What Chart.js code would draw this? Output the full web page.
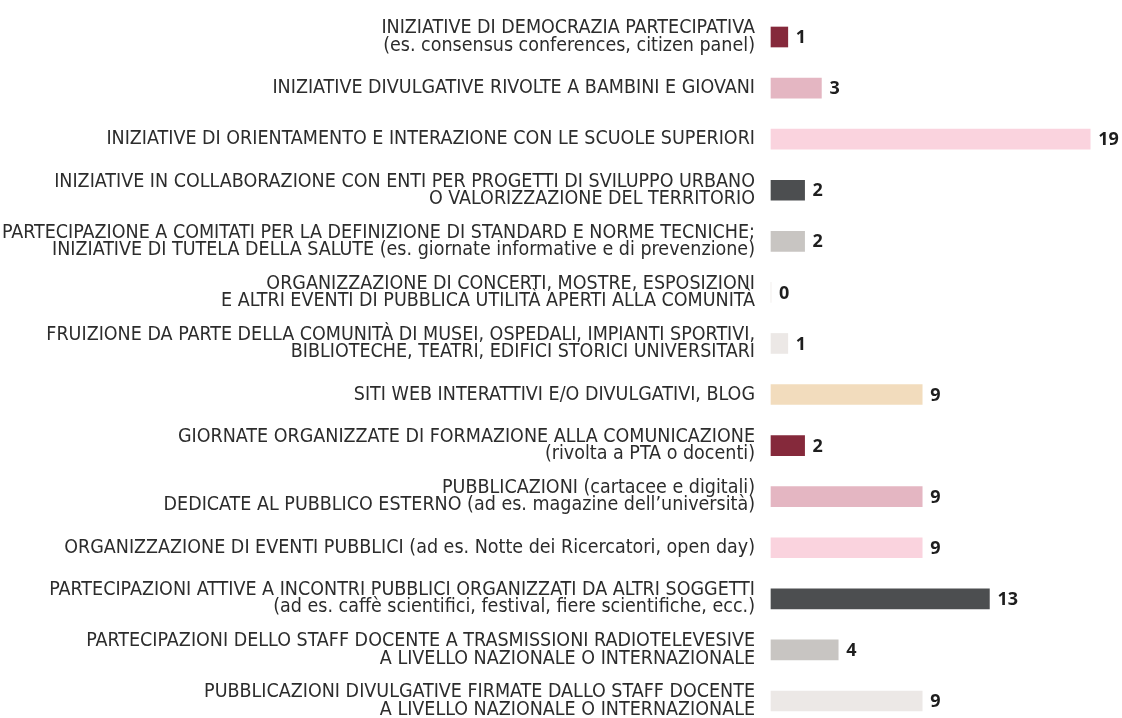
<!DOCTYPE html>
<html>
<head>
<meta charset="utf-8">
<script src="https://cdn.jsdelivr.net/npm/chart.js@4"></script>
<style>
    html, body { margin: 0; padding: 0; background: #ffffff; }
    #wrap { width: 1122px; height: 718px; position: relative; }
</style>
</head>
<body>
<div id="wrap"><canvas id="chart"></canvas></div>
<script>
// categorie (una riga per elemento dell'array interno)
const categories = [
    ['INIZIATIVE DI DEMOCRAZIA PARTECIPATIVA', '(es. consensus conferences, citizen panel)'],
    ['INIZIATIVE DIVULGATIVE RIVOLTE A BAMBINI E GIOVANI'],
    ['INIZIATIVE DI ORIENTAMENTO E INTERAZIONE CON LE SCUOLE SUPERIORI'],
    ['INIZIATIVE IN COLLABORAZIONE CON ENTI PER PROGETTI DI SVILUPPO URBANO', 'O VALORIZZAZIONE DEL TERRITORIO'],
    ['PARTECIPAZIONE A COMITATI PER LA DEFINIZIONE DI STANDARD E NORME TECNICHE;', 'INIZIATIVE DI TUTELA DELLA SALUTE (es. giornate informative e di prevenzione)'],
    ['ORGANIZZAZIONE DI CONCERTI, MOSTRE, ESPOSIZIONI', 'E ALTRI EVENTI DI PUBBLICA UTILITÀ APERTI ALLA COMUNITÀ'],
    ['FRUIZIONE DA PARTE DELLA COMUNITÀ DI MUSEI, OSPEDALI, IMPIANTI SPORTIVI,', 'BIBLIOTECHE, TEATRI, EDIFICI STORICI UNIVERSITARI'],
    ['SITI WEB INTERATTIVI E/O DIVULGATIVI, BLOG'],
    ['GIORNATE ORGANIZZATE DI FORMAZIONE ALLA COMUNICAZIONE', '(rivolta a PTA o docenti)'],
    ['PUBBLICAZIONI (cartacee e digitali)', 'DEDICATE AL PUBBLICO ESTERNO (ad es. magazine dell\u2019università)'],
    ['ORGANIZZAZIONE DI EVENTI PUBBLICI (ad es. Notte dei Ricercatori, open day)'],
    ['PARTECIPAZIONI ATTIVE A INCONTRI PUBBLICI ORGANIZZATI DA ALTRI SOGGETTI', '(ad es. caffè scientifici, festival, fiere scientifiche, ecc.)'],
    ['PARTECIPAZIONI DELLO STAFF DOCENTE A TRASMISSIONI RADIOTELEVESIVE', 'A LIVELLO NAZIONALE O INTERNAZIONALE'],
    ['PUBBLICAZIONI DIVULGATIVE FIRMATE DALLO STAFF DOCENTE', 'A LIVELLO NAZIONALE O INTERNAZIONALE']
];

// valori
const values = [1, 3, 19, 2, 2, 0, 1, 9, 2, 9, 9, 13, 4, 9];

// colori delle barre
const barColors = [
    '#85293b', '#e4b6c2', '#fad3de', '#4c4e50', '#c8c5c2', '#ebe6e4', '#ece8e6',
    '#f2dcbd', '#85293b', '#e4b6c2', '#fad3de', '#4c4e50', '#c8c5c2', '#ece8e6'
];

const labelFont = "'Liberation Sans Narrow', 'DejaVu Sans Condensed', 'Open Sans', sans-serif";

// etichette dei valori a fine barra
const valueLabels = {
    id: 'valueLabels',
    afterDatasetsDraw(chart) {
        const ctx = chart.ctx;
        const meta = chart.getDatasetMeta(0);
        ctx.save();
        ctx.font = "bold 18px 'Open Sans', sans-serif";
        ctx.fillStyle = '#1e1e1e';
        ctx.textAlign = 'left';
        ctx.textBaseline = 'middle';
        meta.data.forEach((bar, i) => {
            ctx.fillText(String(values[i]), bar.x + 8, bar.y + 1);
        });
        ctx.restore();
    }
};

new Chart(document.getElementById('chart'), {
    type: 'bar',
    data: {
        labels: categories,
        datasets: [{
            data: values,
            backgroundColor: barColors,
            borderWidth: 0,
            barThickness: 20,
            clip: false
        }]
    },
    options: {
        indexAxis: 'y',
        responsive: true,
        maintainAspectRatio: false,
        animation: false,
        layout: {
            padding: { top: 37, bottom: 17, left: 0, right: 15 }
        },
        plugins: {
            legend: { display: false },
            tooltip: { enabled: false }
        },
        scales: {
            x: {
                display: false,
                min: 0,
                max: 20
            },
            y: {
                offset: false,
                grid: { display: false, drawTicks: false },
                border: { display: false },
                afterFit: scale => {
                    scale.width = 771;
                    scale.paddingTop = 0;
                    scale.paddingBottom = 0;
                },
                ticks: {
                    autoSkip: false,
                    padding: 16,
                    color: '#2c2c2c',
                    font: { family: labelFont, size: 19.5, lineHeight: 0.88 }
                }
            }
        }
    },
    plugins: [valueLabels]
});
</script>
</body>
</html>
